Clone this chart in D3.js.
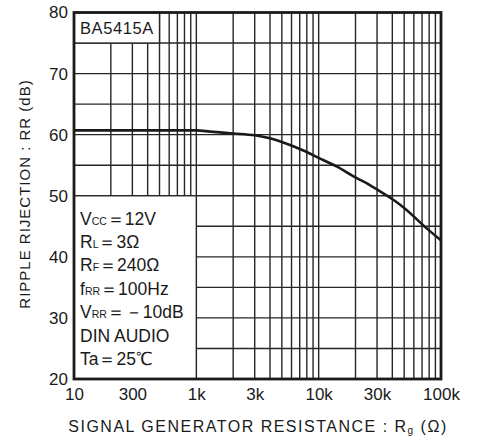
<!DOCTYPE html>
<html>
<head>
<meta charset="utf-8">
<script src="https://cdn.jsdelivr.net/npm/d3@7"></script>
<style>
  body { margin: 0; background: #fff; }
  text { font-family: "Liberation Sans", Arial, sans-serif; fill: #1a1a1a; }
</style>
</head>
<body>
<div class="canva"></div>
<script>
// data
const resistance = [100, 1000, 1300, 2000, 3000, 4000, 5000, 7500, 10000, 14000, 20000, 26000, 35000, 41000, 50000, 76000, 100000]
const rippleRejection = [60.7, 60.7, 60.5, 60.2, 59.9, 59.4, 58.8, 57.4, 56.2, 54.8, 53.0, 51.8, 50.2, 49.3, 48.0, 44.7, 42.7]

const xTickValues = [100, 300, 1000, 3000, 10000, 30000, 100000]
const xTickLabels = ['10', '300', '1k', '3k', '10k', '30k', '100k']
const yTickValues = [20, 30, 40, 50, 60, 70, 80]

const conditions = [
  ['V', 'CC', '＝12V'],
  ['R', 'L', '＝3Ω'],
  ['R', 'F', '＝240Ω'],
  ['f', 'RR', '＝100Hz'],
  ['V', 'RR', '＝－10dB'],
  ['DIN  AUDIO', '', ''],
  ['Ta＝25℃', '', '']
]

const W = 477, H = 443
const pL = 74, pR = 441, pT = 12.5, pB = 379

const svg = d3.select('.canva').append('svg')
    .attr('width', W)
    .attr('height', H)

const x = d3.scaleLog().domain([100, 100000]).range([pL, pR])
const y = d3.scaleLinear().domain([20, 80]).range([pB, pT])

// grid
const vLines = []
;[100, 1000, 10000].forEach(d => {
  for (let k = 1; k <= 10; k++) vLines.push(d * k)
})
const gridV = Array.from(new Set(vLines)).filter(v => v > 100 && v < 100000)
const gridH = d3.range(25, 80, 5)

const grid = svg.append('g')
grid.selectAll('line.v')
  .data(gridV)
  .enter().append('line')
    .attr('x1', d => x(d)).attr('x2', d => x(d))
    .attr('y1', pT).attr('y2', pB)
    .attr('stroke', '#262626')
    .attr('stroke-width', 1.4)
grid.selectAll('line.h')
  .data(gridH)
  .enter().append('line')
    .attr('x1', pL).attr('x2', pR)
    .attr('y1', d => y(d)).attr('y2', d => y(d))
    .attr('stroke', '#262626')
    .attr('stroke-width', 1.4)

// boxes that hide the grid
svg.append('rect')
    .attr('x', pL).attr('y', pT)
    .attr('width', x(500) - pL).attr('height', y(75) - pT)
    .attr('fill', '#fff')
    .attr('stroke', '#262626')
    .attr('stroke-width', 1.4)
svg.append('rect')
    .attr('x', pL).attr('y', y(50))
    .attr('width', x(1000) - pL).attr('height', pB - y(50))
    .attr('fill', '#fff')
    .attr('stroke', '#262626')
    .attr('stroke-width', 1.4)

svg.append('text')
    .text('BA5415A')
    .attr('x', 80).attr('y', 34)
    .attr('font-size', 16.5)
    .attr('letter-spacing', 0.6)

const cond = svg.append('g')
conditions.forEach((c, i) => {
  const t = cond.append('text')
    .attr('x', 80).attr('y', 224.5 + i * 23.4)
    .attr('font-size', 17.5)
  t.append('tspan').text(c[0])
  if (c[1]) t.append('tspan').text(c[1]).attr('font-size', 10.5)
  if (c[2]) t.append('tspan').text(c[2])
})

// frame
svg.append('rect')
    .attr('x', pL).attr('y', pT)
    .attr('width', pR - pL).attr('height', pB - pT)
    .attr('fill', 'none')
    .attr('stroke', '#1a1a1a')
    .attr('stroke-width', 2.8)

// curve
const line = d3.line()
    .x((d, i) => x(resistance[i]))
    .y(d => y(d))
    .curve(d3.curveMonotoneX)
svg.append('path')
    .datum(rippleRejection)
    .attr('d', line)
    .attr('fill', 'none')
    .attr('stroke', '#1a1a1a')
    .attr('stroke-width', 2.6)

// axes
const xAxis = d3.axisBottom(x)
    .tickValues(xTickValues)
    .tickFormat((d, i) => xTickLabels[i])
    .tickSize(0)
    .tickPadding(9)
const gx = svg.append('g')
    .attr('transform', `translate(0,${pB})`)
    .call(xAxis)
gx.select('.domain').remove()
gx.selectAll('text')
    .attr('font-size', 17)
    .attr('fill', '#1a1a1a')
    .style('font-family', '"Liberation Sans", Arial, sans-serif')

const yAxis = d3.axisLeft(y)
    .tickValues(yTickValues)
    .tickSize(0)
    .tickPadding(6)
const gy = svg.append('g')
    .attr('transform', `translate(${pL},0)`)
    .call(yAxis)
gy.select('.domain').remove()
gy.selectAll('text')
    .attr('font-size', 17)
    .attr('fill', '#1a1a1a')
    .style('font-family', '"Liberation Sans", Arial, sans-serif')

// titles
svg.append('text')
    .text('RIPPLE RIJECTION : RR (dB)')
    .attr('transform', `translate(30,194) rotate(-90)`)
    .attr('text-anchor', 'middle')
    .attr('font-size', 15)
    .attr('letter-spacing', 1)

const xt = svg.append('text')
    .attr('x', 258).attr('y', 432)
    .attr('text-anchor', 'middle')
    .attr('font-size', 16)
    .attr('letter-spacing', 1.5)
xt.append('tspan').text('SIGNAL GENERATOR RESISTANCE : R')
xt.append('tspan').text('g').attr('font-size', 10).attr('dy', 2)
xt.append('tspan').text(' (Ω)').attr('dy', -2)
</script>
</body>
</html>
